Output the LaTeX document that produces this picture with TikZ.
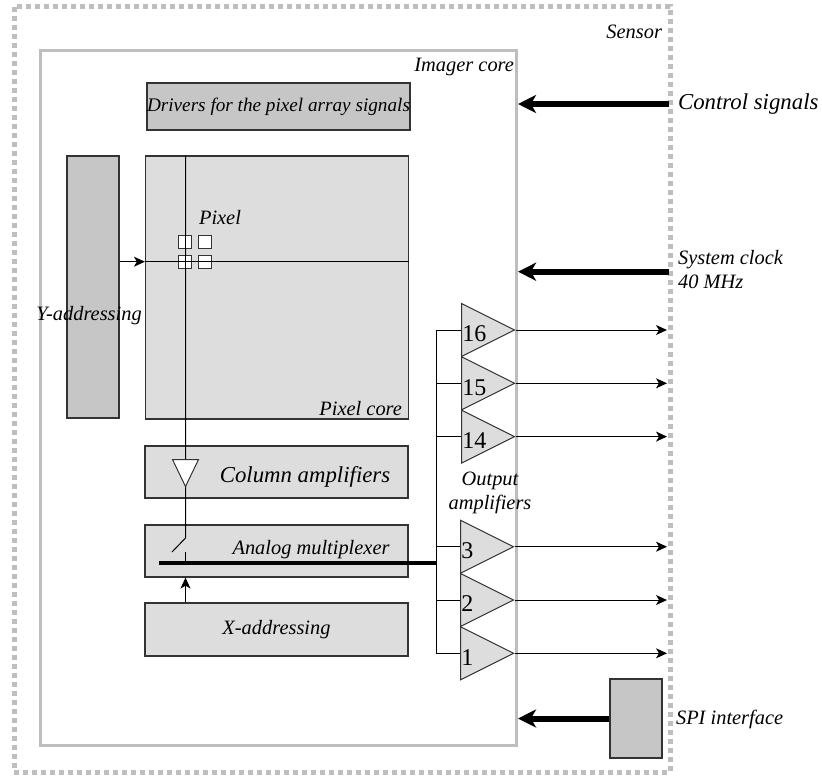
\documentclass[tikz,border=0pt]{standalone}
\usepackage{fontspec}
\setmainfont{Liberation Serif}
\usetikzlibrary{arrows.meta, positioning, shapes.geometric}

\definecolor{framegray}{HTML}{BEBEBE}
\definecolor{darkfill}{HTML}{C6C6C6}
\definecolor{lightfill}{HTML}{DDDDDD}

\begin{document}
\begin{tikzpicture}[x=0.5pt, y=-0.5pt, >={Stealth[length=5.5pt, width=5pt, inset=1.5pt]},
    every node/.style={font=\fontsize{10.2}{12}\selectfont\itshape},
    block/.style={draw=black!80, line width=0.6pt, inner sep=0pt, minimum width=131.5pt, minimum height=26pt, fill=lightfill},
    darkblock/.style={block, fill=darkfill},
    cell/.style={draw=black!80, fill=white, line width=0.5pt, minimum size=6.7pt, inner sep=0pt},
    amp/.style={isosceles triangle, isosceles triangle stretches, draw=black!80, fill=lightfill, line width=0.5pt, minimum width=26.5pt, minimum height=26.5pt, inner sep=0pt, anchor=west},
    num/.style={font=\fontsize{12}{14}\selectfont, inner sep=0.5pt, anchor=west, yshift=-2pt},
    bigarrow/.style={-{Stealth[length=9pt, width=9pt, inset=2.5pt]}, line width=3pt},
    wire/.style={line width=0.5pt}]

    \useasboundingbox (0,0) rectangle (822,776);

    %define the frames
    \node[draw=framegray, line width=2.5pt, dash pattern=on 2.5pt off 2pt, minimum width=328pt, minimum height=383pt, inner sep=0pt] (sensor) at (342,389) {};
    \node[draw=framegray, line width=1.5pt, minimum width=238pt, minimum height=347.25pt, inner sep=0pt] (core) at (278.5,397.75) {};
    \node[anchor=east] (sensorlabel) at (669,32) {Sensor};
    \node[anchor=east] (corelabel) at (521,67) {Imager core};

    %define the blocks of the imager core
    \node[darkblock, minimum width=130.5pt, minimum height=23.5pt, font=\fontsize{9.6}{11}\selectfont\itshape] (drivers) at (278.5,106.5) {Drivers for the pixel array signals};
    \node[darkblock, minimum width=26pt, minimum height=131pt] (yaddr) at (93,287) {};
    \node[block, minimum height=131.5pt] (pixcore) at (277,287.5) {};
    \node[block] (colamp) at (276.5,472) {};
    \node[block] (mux) at (276.5,551) {};
    \node[block, minimum height=26.5pt] (xaddr) at (276.5,629.5) {X-addressing};

    \node (ylabel) at (89,316) {Y-addressing};
    \node[anchor=east] (pixcorelabel) at (409,409) {Pixel core};
    \node (colamplabel) at (305,477) {\fontsize{11.4}{13}\selectfont Column amplifiers};
    \node (muxlabel) at (311,550) {Analog multiplexer};
    \node (pixlabel) at (220,218) {Pixel};

    %define the points of the column path
    \coordinate (row) at (0,261.7);
    \coordinate (swtop) at (185.5,538);
    \coordinate (swend) at (172,552);
    \coordinate (swbot) at (185.5,552);
    \coordinate (muxl) at (159,563);
    \coordinate (bus) at (436,563);
    \coordinate (out) at (667,0);

    %define the links inside the array
    \draw[wire, ->] (yaddr.east |- row) -- (pixcore.west |- row);
    \draw[wire] (pixcore.west |- row) -- (pixcore.east |- row);
    \draw[wire] (pixcore.north -| swtop) -- (swtop) -- (swend);
    \draw[wire] (swbot) -- (swbot |- bus);
    \draw[wire, ->] (xaddr.north -| swtop) -- (mux.south -| swtop);
    \draw[line width=2pt] (muxl) -- (bus);

    \node[isosceles triangle, isosceles triangle stretches, draw=black!80, fill=white, line width=0.5pt, rotate=-90, minimum width=13pt, minimum height=13.5pt, inner sep=0pt, anchor=west] (camp) at (185.5,459) {};

    %define the pixels
    \node[cell] (p11) at (185,241.7) {};
    \node[cell] (p12) at (205,241.7) {};
    \node[cell] (p21) at (185,261.7) {};
    \node[cell] (p22) at (205,261.7) {};
    \draw[wire] (p11.north -| swtop) -- (p21.south -| swtop);
    \draw[wire] (p21.west |- row) -- (p22.east |- row);

    %define the output amplifiers
    \node[amp] (a16) at (461,330) {};
    \node[amp] (a15) at (461,383.3) {};
    \node[amp] (a14) at (461,436.6) {};
    \node[amp] (a3) at (460,546.7) {};
    \node[amp] (a2) at (460,600) {};
    \node[amp] (a1) at (460,653.3) {};
    \node[num] at (a16.west) {16};
    \node[num] at (a15.west) {15};
    \node[num] at (a14.west) {14};
    \node[num] at (a3.west) {3};
    \node[num] at (a2.west) {2};
    \node[num] at (a1.west) {1};
    \node[align=center] (amplabel) at (490,493) {Output\\amplifiers};

    %define the output links
    \draw[wire] (bus |- a16.west) -- (bus |- a1.west);
    \draw[wire] (bus |- a16.west) -- (a16.west);
    \draw[wire] (bus |- a15.west) -- (a15.west);
    \draw[wire] (bus |- a14.west) -- (a14.west);
    \draw[wire] (bus |- a3.west) -- (a3.west);
    \draw[wire] (bus |- a2.west) -- (a2.west);
    \draw[wire] (bus |- a1.west) -- (a1.west);
    \draw[wire, ->] (a16.east) -- (a16.east -| out);
    \draw[wire, ->] (a15.east) -- (a15.east -| out);
    \draw[wire, ->] (a14.east) -- (a14.east -| out);
    \draw[wire, ->] (a3.east) -- (a3.east -| out);
    \draw[wire, ->] (a2.east) -- (a2.east -| out);
    \draw[wire, ->] (a1.east) -- (a1.east -| out);

    %define the inputs of the sensor
    \coordinate (ctrl) at (669,104);
    \coordinate (clk) at (669,271.7);
    \node[darkblock, minimum width=26pt, minimum height=39.5pt] (spi) at (636,718.5) {};
    \draw[bigarrow] (ctrl) -- (ctrl -| core.east);
    \draw[bigarrow] (clk) -- (clk -| core.east);
    \draw[bigarrow] (spi.west) -- (spi.west -| core.east);
    \node[anchor=west] (ctrllabel) at (671,104) {\fontsize{11.4}{13}\selectfont Control signals};
    \node[anchor=west, align=left] (clklabel) at (671,270) {System clock\\40 MHz};
    \node[anchor=west] (spilabel) at (669,719) {SPI interface};
  \end{tikzpicture}
\end{document}
